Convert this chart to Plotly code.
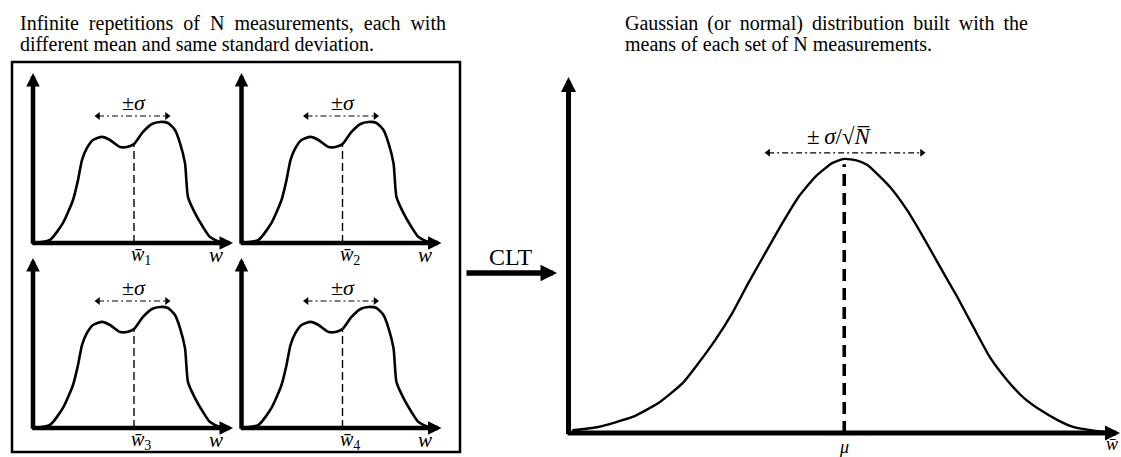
import numpy as np
import plotly.graph_objects as go

W, H = 1121, 457

# ---------------- data ----------------
# bimodal distribution of one set of N measurements (read from the small panels)
curve_w = [0.1, 0.85, 1.5, 2.0, 2.25, 2.45, 2.7, 3.0, 3.45, 3.85, 4.35, 4.7, 5.05,
           5.5, 5.95, 6.35, 6.75, 7.1, 7.35, 7.6, 7.75, 8.1, 8.5, 8.85, 9.35, 9.85]
curve_p = [0.0, 0.18, 1.18, 2.53, 3.7, 4.88, 5.59, 6.06, 6.24, 6.06, 5.65, 5.65, 5.82,
           6.53, 7.0, 7.12, 7.06, 6.65, 5.88, 4.7, 2.7, 1.76, 0.94, 0.35, 0.06, 0.0]
panel_means = [5.05, 5.05, 5.05, 5.05]
panel_labels = ["1", "2", "3", "4"]
sigma_lo, sigma_hi, sigma_y = 3.25, 6.7, 7.47

# Gaussian of the means
gauss_w = [0.07, 0.54, 1.16, 1.63, 2.07, 2.36, 2.66, 2.97, 3.26, 3.57, 3.88, 4.17, 4.47,
           4.78, 5.0, 5.22, 5.42, 5.83, 6.14, 6.43, 6.74, 7.05, 7.34, 7.64, 7.95, 8.24,
           8.55, 8.86, 9.15, 9.46, 9.76]
gauss_p = [0.08, 0.17, 0.45, 0.84, 1.40, 1.97, 2.61, 3.37, 4.21, 5.06, 5.90, 6.63, 7.19,
           7.58, 7.70, 7.66, 7.53, 6.91, 6.26, 5.51, 4.66, 3.82, 2.98, 2.13, 1.49, 1.01,
           0.65, 0.37, 0.17, 0.08, 0.03]
mu = 5.0
sem_lo, sem_hi, sem_y = 3.62, 6.41, 7.87

title_left = ["Infinite repetitions of N measurements, each with",
              "different mean and same standard deviation."]
title_right = ["Gaussian (or normal) distribution built with the",
               "means of each set of N measurements."]

# ---------------- layout helpers ----------------
SERIF = "Liberation Serif"
# panel origins in pixels (x of y-axis, y of x-axis) and px per unit
panel_origin = [(33, 243), (241.5, 243), (33, 428), (241.5, 428)]
PSX, PSY = 20.0, 17.0
PX_RANGE, PY_RANGE = [-0.5, 10.5], [-1.6, 10.5]
BIG_O = (568.5, 433)
BSX, BSY = 55.15, 35.6
BX_RANGE, BY_RANGE = [-0.3, 10.0], [-0.6, 10.2]


def xdom(ox, sx, rng):
    return [(ox + rng[0] * sx) / W, (ox + rng[1] * sx) / W]


def ydom(oy, sy, rng):
    return [1 - (oy - rng[0] * sy) / H, 1 - (oy - rng[1] * sy) / H]


fig = go.Figure()
annotations = []
layout_axes = {}


def axis_arrows(k, sx, sy, xtip, ytip, lw, asize):
    xr, yr = f"x{k}", f"y{k}"
    half = lw / 2.0
    annotations.append(dict(x=xtip, y=0, ax=-half / sx, ay=0, xref=xr, yref=yr,
                            axref=xr, ayref=yr, text="", showarrow=True, arrowhead=2,
                            arrowsize=asize, arrowwidth=lw, arrowcolor="black"))
    annotations.append(dict(x=0, y=ytip, ax=0, ay=-half / sy, xref=xr, yref=yr,
                            axref=xr, ayref=yr, text="", showarrow=True, arrowhead=2,
                            arrowsize=asize, arrowwidth=lw, arrowcolor="black"))


for i, (ox, oy) in enumerate(panel_origin):
    k = i + 1
    xa = "x" if k == 1 else f"x{k}"
    ya = "y" if k == 1 else f"y{k}"
    layout_axes["xaxis" if k == 1 else f"xaxis{k}"] = dict(
        domain=xdom(ox, PSX, PX_RANGE), range=PX_RANGE, visible=False,
        anchor=ya, fixedrange=True)
    layout_axes["yaxis" if k == 1 else f"yaxis{k}"] = dict(
        domain=ydom(oy, PSY, PY_RANGE), range=PY_RANGE, visible=False,
        anchor=xa, fixedrange=True)
    m = panel_means[i]
    top = float(np.interp(m, curve_w, curve_p))
    # mean line
    fig.add_trace(go.Scatter(x=[m, m], y=[0, top], mode="lines", xaxis=xa, yaxis=ya,
                             line=dict(color="black", width=1.4, dash="8px,4px"),
                             hoverinfo="skip", showlegend=False))
    # distribution
    fig.add_trace(go.Scatter(x=curve_w, y=curve_p, mode="lines", xaxis=xa, yaxis=ya,
                             line=dict(color="black", width=2.6, shape="spline",
                                       smoothing=0.6),
                             hoverinfo="skip", showlegend=False))
    # +- sigma arrow
    fig.add_trace(go.Scatter(x=[sigma_lo, sigma_hi], y=[sigma_y, sigma_y],
                             mode="lines+markers", xaxis=xa, yaxis=ya,
                             line=dict(color="black", width=1.2, dash="6px,3px,2px,3px"),
                             marker=dict(symbol=["triangle-left", "triangle-right"],
                                         size=7, color="black"),
                             hoverinfo="skip", showlegend=False))
    xr, yr = f"x{k}", f"y{k}"
    annotations.append(dict(x=m, y=sigma_y + 0.78, xref=xr, yref=yr,
                            text="±<i>σ</i>", showarrow=False,
                            font=dict(family=SERIF, size=22, color="black")))
    annotations.append(dict(x=m + 0.35, y=-0.72, xref=xr, yref=yr,
                            text="<i>w̄</i><sub>" + panel_labels[i] + "</sub>",
                            showarrow=False,
                            font=dict(family=SERIF, size=20, color="black")))
    annotations.append(dict(x=9.15, y=-0.72, xref=xr, yref=yr, text="<i>w</i>",
                            showarrow=False,
                            font=dict(family=SERIF, size=21, color="black")))
    axis_arrows(k, PSX, PSY, 10, 10, 4.5, 0.6)

# big panel
layout_axes["xaxis5"] = dict(domain=xdom(BIG_O[0], BSX, BX_RANGE), range=BX_RANGE,
                             visible=False, anchor="y5", fixedrange=True)
layout_axes["yaxis5"] = dict(domain=ydom(BIG_O[1], BSY, BY_RANGE), range=BY_RANGE,
                             visible=False, anchor="x5", fixedrange=True)
peak = float(np.interp(mu, gauss_w, gauss_p))
fig.add_trace(go.Scatter(x=[mu, mu], y=[0, peak - 0.15], mode="lines", xaxis="x5",
                         yaxis="y5", line=dict(color="black", width=3.6, dash="12px,7px"),
                         hoverinfo="skip", showlegend=False))
fig.add_trace(go.Scatter(x=gauss_w, y=gauss_p, mode="lines", xaxis="x5", yaxis="y5",
                         line=dict(color="black", width=2.4, shape="spline",
                                   smoothing=0.5),
                         hoverinfo="skip", showlegend=False))
fig.add_trace(go.Scatter(x=[sem_lo, sem_hi], y=[sem_y, sem_y], mode="lines+markers",
                         xaxis="x5", yaxis="y5",
                         line=dict(color="black", width=1.2, dash="6px,3px,2px,3px"),
                         marker=dict(symbol=["triangle-left", "triangle-right"], size=7,
                                     color="black"),
                         hoverinfo="skip", showlegend=False))
annotations.append(dict(x=(sem_lo + sem_hi) / 2 - 0.1, y=sem_y + 0.45, xref="x5",
                        yref="y5", text="±\u2009<i>σ</i>/√<i>N̅</i>", showarrow=False,
                        font=dict(family=SERIF, size=23, color="black")))
annotations.append(dict(x=mu, y=-0.38, xref="x5", yref="y5", text="<i>μ</i>",
                        showarrow=False, font=dict(family=SERIF, size=18, color="black")))
annotations.append(dict(x=9.86, y=-0.3, xref="x5", yref="y5", text="<i>w̄</i>",
                        showarrow=False, font=dict(family=SERIF, size=18, color="black")))
axis_arrows(5, BSX, BSY, 10, 10, 5, 0.6)

# CLT arrow
annotations.append(dict(x=557 / W, y=1 - 273 / H, xref="paper", yref="paper",
                        ax=-92, ay=0, axref="pixel", ayref="pixel", text="",
                        showarrow=True, arrowhead=2, arrowsize=0.6, arrowwidth=5.5,
                        arrowcolor="black"))
annotations.append(dict(x=510 / W, y=1 - 257 / H, xref="paper", yref="paper",
                        text="CLT", showarrow=False,
                        font=dict(family=SERIF, size=24, color="black")))

# titles
nb = " \u00a0"
for j, (txt, yy) in enumerate(zip(title_left, [23.5, 44.5])):
    t = txt.replace(" ", nb) if j == 0 else txt
    annotations.append(dict(x=18 / W, y=1 - yy / H, xref="paper", yref="paper",
                            xanchor="left", yanchor="middle", text=t, showarrow=False,
                            font=dict(family=SERIF, size=20, color="black")))
for j, (txt, yy) in enumerate(zip(title_right, [23.5, 44.5])):
    t = txt.replace(" ", " \u2009") if j == 0 else txt
    annotations.append(dict(x=623 / W, y=1 - yy / H, xref="paper", yref="paper",
                            xanchor="left", yanchor="middle", text=t, showarrow=False,
                            font=dict(family=SERIF, size=20, color="black")))

fig.update_layout(
    width=W, height=H, margin=dict(l=0, r=0, t=0, b=0),
    paper_bgcolor="white", plot_bgcolor="rgba(0,0,0,0)",
    showlegend=False, annotations=annotations,
    shapes=[dict(type="rect", xref="paper", yref="paper", x0=12 / W, x1=460 / W,
                 y0=1 - 452 / H, y1=1 - 62 / H, line=dict(color="black", width=2.5))],
    **layout_axes,
)
fig.write_html("out.html", config={"displayModeBar": False},
               post_script="document.body.style.margin='0px';"
                           "document.body.style.overflow='hidden';")
